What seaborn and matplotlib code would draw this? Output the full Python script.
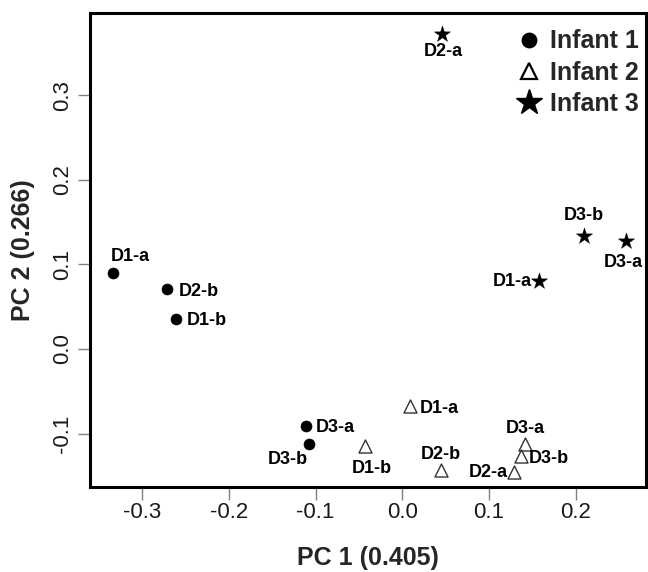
import numpy as np
import pandas as pd
import seaborn as sns
import matplotlib
matplotlib.use('Agg')
import matplotlib.pyplot as plt
from matplotlib.lines import Line2D

# PCA scores
infant = ['Infant 1'] * 5 + ['Infant 2'] * 6 + ['Infant 3'] * 4
sample = ['D1-a', 'D2-b', 'D1-b', 'D3-a', 'D3-b',
          'D1-a', 'D1-b', 'D2-b', 'D3-a', 'D3-b', 'D2-a',
          'D2-a', 'D3-b', 'D3-a', 'D1-a']
pc1 = [-0.333, -0.271, -0.261, -0.111, -0.108,
       0.009, -0.043, 0.045, 0.142, 0.137, 0.129,
       0.046, 0.209, 0.258, 0.158]
pc2 = [0.090, 0.071, 0.036, -0.091, -0.113,
       -0.068, -0.115, -0.143, -0.112, -0.127, -0.145,
       0.373, 0.134, 0.128, 0.081]

df = pd.DataFrame({'infant': infant, 'sample': sample, 'pc1': pc1, 'pc2': pc2})

# label placement next to each point: (ha, dx px, dy px)
label_pos = [('center', 17, 16), ('left', 12, -2), ('left', 11, -2), ('left', 10, -2), ('right', -1, -15),
             ('left', 10, -2), ('center', 7, -22), ('center', 0, 15), ('center', 0, 15), ('left', 8, -2), ('right', -6, -1),
             ('center', 1, -18), ('center', 0, 20), ('center', -3, -22), ('right', -7, -1)]

styles = {
    'Infant 1': dict(marker='o', s=62, color='black', edgecolor='black', linewidth=0.5),
    'Infant 2': dict(marker='^', s=88, color='white', edgecolor='#333333', linewidth=1.0),
    'Infant 3': dict(marker='*', s=150, color='black', edgecolor='black', linewidth=0.3),
}

sns.set_theme(style='white')
plt.rcParams['font.family'] = ['Liberation Sans', 'DejaVu Sans']

fig = plt.figure(figsize=(6.48, 5.72), dpi=100)
ax = fig.add_axes([90 / 648, 1 - 487 / 572, 556 / 648, 474 / 572])

for g, st in styles.items():
    sns.scatterplot(data=df[df['infant'] == g], x='pc1', y='pc2', ax=ax, legend=False, zorder=3, **st)

# sample labels
for (x, y, lab), (ha, dx, dy) in zip(zip(pc1, pc2, sample), label_pos):
    ax.annotate(lab, (x, y), xytext=(dx * 0.72, dy * 0.72), textcoords='offset points',
                ha=ha, va='center', fontsize=13, fontweight='bold', color='black')

ax.set_xlim(-0.360, 0.281)
ax.set_ylim(-0.1633, 0.3976)
ax.set_xticks([-0.3, -0.2, -0.1, 0.0, 0.1, 0.2])
ax.set_yticks([-0.1, 0.0, 0.1, 0.2, 0.3])
ax.set_xticklabels(['-0.3', '-0.2', '-0.1', '0.0', '0.1', '0.2'])
ax.set_yticklabels(['-0.1', '0.0', '0.1', '0.2', '0.3'])
ax.tick_params(axis='both', direction='out', length=9, width=1, color='#808080',
               labelsize=16, labelcolor='#1a1a1a', bottom=True, left=True)
ax.tick_params(axis='x', pad=2)
ax.tick_params(axis='y', pad=3.5, labelrotation=90)
for t in ax.get_yticklabels():
    t.set_va('center')

for sp in ax.spines.values():
    sp.set_linewidth(2.2)
    sp.set_color('black')

ax.set_xlabel('PC 1 (0.405)', fontsize=18, fontweight='bold', labelpad=16)
ax.set_ylabel('PC 2 (0.266)', fontsize=18, fontweight='bold', labelpad=12)

handles = [
    Line2D([], [], marker='o', linestyle='', color='black', markersize=10.4),
    Line2D([], [], marker='^', linestyle='', markerfacecolor='white', markeredgecolor='black',
           markeredgewidth=1.6, markersize=11.5),
    Line2D([], [], marker='*', linestyle='', color='black', markersize=19),
]
ax.legend(handles, ['Infant 1', 'Infant 2', 'Infant 3'], loc='upper right',
          bbox_to_anchor=(1.009, 0.992), frameon=False, handlelength=1.3, handletextpad=0.19,
          labelspacing=0.29, borderaxespad=0.3, borderpad=0.2,
          prop=dict(size=18, weight='bold'))

plt.savefig('out.png', dpi=100)
